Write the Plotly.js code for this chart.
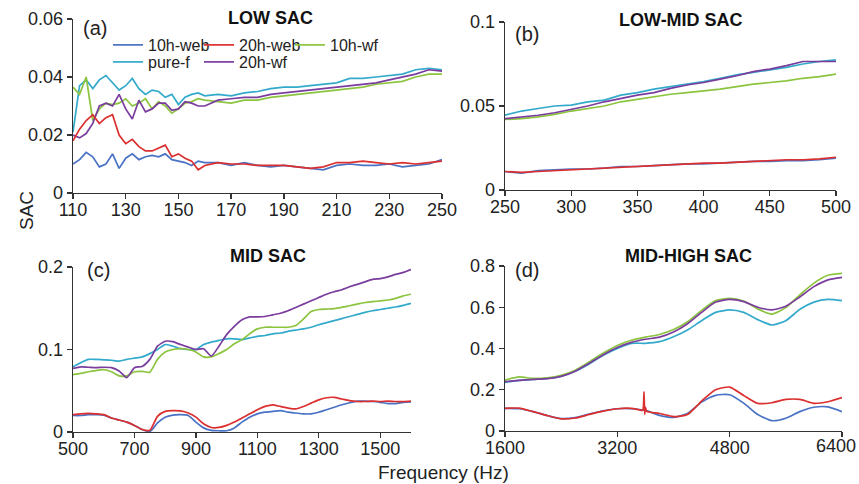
<!DOCTYPE html>
<html>
<head>
<meta charset="utf-8">
<script src="https://cdn.plot.ly/plotly-3.0.1.min.js"></script>
<style>html,body{margin:0;padding:0;background:#fff;}#chart{width:859px;height:484px;}</style>
</head>
<body>
<div id="chart"></div>
<script>
// ---------- data ----------
const seriesNames = ["10h-web", "20h-web", "10h-wf", "pure-f", "20h-wf"];
const seriesColors = ["#4a72c4", "#dc2f2f", "#8cc43f", "#33aacb", "#7a3d9e"];

// (a) LOW SAC
const freqA = [110,112.5,115,117.5,120,122.5,125,127.5,130,132.5,135,137.5,140,142.5,145,147.5,150,152.5,155,157.5,160,
  165,170,175,180,185,190,195,200,205,210,215,220,225,230,235,240,245,250];
const web10A = [0.010,0.0115,0.014,0.0125,0.009,0.010,0.0135,0.0085,0.012,0.0135,0.0115,0.0125,0.013,0.0125,0.0135,0.0115,0.011,0.0105,0.0095,0.011,0.0105,
  0.0105,0.0095,0.0105,0.0095,0.009,0.0095,0.009,0.0085,0.008,0.0095,0.010,0.0095,0.0095,0.010,0.009,0.0095,0.010,0.0115];
const web20A = [0.018,0.022,0.025,0.027,0.024,0.026,0.027,0.020,0.017,0.0185,0.016,0.0145,0.0145,0.0155,0.0165,0.0125,0.0135,0.012,0.011,0.008,0.0095,
  0.0105,0.010,0.010,0.0095,0.0095,0.0095,0.009,0.0085,0.009,0.0105,0.0105,0.011,0.0105,0.010,0.0105,0.010,0.0105,0.011];
const wf10A = [0.0365,0.034,0.040,0.025,0.029,0.031,0.0305,0.031,0.0325,0.030,0.031,0.0325,0.029,0.0315,0.030,0.0275,0.029,0.031,0.0315,0.0325,0.032,
  0.0315,0.031,0.032,0.032,0.033,0.0335,0.034,0.0345,0.035,0.0355,0.036,0.0365,0.0375,0.038,0.0385,0.040,0.041,0.041];
const pureA = [0.021,0.037,0.039,0.036,0.039,0.0405,0.038,0.0355,0.037,0.0395,0.036,0.034,0.0355,0.035,0.033,0.034,0.0305,0.033,0.034,0.0345,0.0335,
  0.034,0.0335,0.0345,0.035,0.036,0.0365,0.0365,0.037,0.0375,0.038,0.0395,0.0395,0.040,0.0405,0.041,0.0425,0.043,0.0425];
const wf20A = [0.020,0.019,0.0205,0.024,0.030,0.031,0.030,0.034,0.029,0.0255,0.032,0.028,0.029,0.031,0.031,0.0285,0.029,0.0315,0.031,0.030,0.030,
  0.032,0.0325,0.033,0.033,0.034,0.0345,0.035,0.0355,0.036,0.0365,0.037,0.0375,0.038,0.039,0.040,0.041,0.0425,0.042];

// (b) LOW-MID SAC
const freqB = [250,262.5,275,287.5,300,312.5,325,337.5,350,362.5,375,387.5,400,412.5,425,437.5,450,462.5,475,487.5,500];
const web10B = [0.011,0.010,0.0115,0.012,0.0125,0.0125,0.013,0.014,0.014,0.0145,0.015,0.0155,0.0155,0.016,0.0165,0.017,0.017,0.0175,0.0175,0.018,0.019];
const web20B = [0.011,0.0105,0.011,0.0115,0.012,0.0125,0.013,0.0135,0.014,0.0145,0.015,0.0155,0.016,0.016,0.0165,0.017,0.0175,0.018,0.018,0.0185,0.0195];
const wf10B = [0.042,0.0425,0.0435,0.045,0.047,0.0485,0.050,0.0525,0.054,0.0555,0.057,0.058,0.059,0.060,0.0615,0.063,0.064,0.065,0.0665,0.0675,0.069];
const pureB = [0.0445,0.047,0.0485,0.050,0.0505,0.0525,0.0535,0.0565,0.058,0.060,0.0615,0.063,0.0645,0.0665,0.0685,0.070,0.0715,0.073,0.075,0.0765,0.0775];
const wf20B = [0.0425,0.0435,0.0445,0.046,0.048,0.050,0.0525,0.0545,0.0565,0.058,0.0605,0.0625,0.064,0.066,0.068,0.0705,0.072,0.074,0.0765,0.0765,0.0765];

// (c) MID SAC
const freqC = [500,525,550,575,600,625,650,675,700,725,750,775,800,825,850,875,900,925,950,975,1000,1025,1050,1075,1100,
  1125,1150,1175,1200,1225,1250,1275,1300,1325,1350,1375,1400,1425,1450,1475,1500,1525,1550,1575,1600];
const web10C = [0.020,0.020,0.021,0.021,0.0205,0.017,0.0145,0.012,0.008,0.003,0.0005,0.011,0.018,0.0205,0.021,0.020,0.012,0.005,0.002,0.0015,0.0015,0.005,0.012,0.018,0.022,
  0.024,0.025,0.026,0.024,0.023,0.022,0.022,0.024,0.027,0.030,0.033,0.0355,0.0375,0.0375,0.037,0.036,0.0345,0.0345,0.036,0.0365];
const web20C = [0.021,0.022,0.0225,0.022,0.021,0.017,0.0145,0.012,0.008,0.003,0.002,0.019,0.025,0.026,0.0255,0.023,0.018,0.010,0.0055,0.0055,0.008,0.012,0.017,0.022,0.027,
  0.031,0.033,0.031,0.029,0.028,0.031,0.035,0.039,0.0415,0.042,0.040,0.038,0.037,0.037,0.0375,0.037,0.0375,0.037,0.037,0.0375];
const wf10C = [0.0695,0.071,0.073,0.0745,0.0755,0.073,0.068,0.068,0.073,0.0735,0.0725,0.088,0.097,0.100,0.101,0.100,0.097,0.091,0.091,0.095,0.100,0.107,0.112,0.119,0.125,
  0.127,0.127,0.127,0.127,0.129,0.137,0.146,0.1485,0.149,0.1495,0.151,0.153,0.155,0.157,0.158,0.159,0.160,0.162,0.165,0.167];
const pureC = [0.079,0.084,0.088,0.088,0.0875,0.087,0.086,0.088,0.0895,0.091,0.095,0.100,0.106,0.104,0.101,0.100,0.100,0.106,0.109,0.111,0.113,0.113,0.112,0.114,0.116,
  0.117,0.119,0.120,0.122,0.1235,0.125,0.127,0.130,0.1325,0.135,0.1375,0.140,0.1425,0.145,0.147,0.1485,0.150,0.1515,0.1535,0.156];
const wf20C = [0.077,0.079,0.0785,0.078,0.0785,0.078,0.074,0.066,0.078,0.0795,0.088,0.104,0.110,0.1095,0.106,0.103,0.100,0.101,0.092,0.104,0.118,0.128,0.136,0.1395,0.1395,
  0.140,0.142,0.144,0.147,0.151,0.155,0.159,0.163,0.167,0.170,0.1725,0.176,0.179,0.182,0.185,0.186,0.188,0.191,0.1935,0.197];

// (d) MID-HIGH SAC
const freqD = [1600,1800,2000,2200,2400,2600,2800,3000,3200,3400,3600,3800,4000,4200,4400,4600,4800,5000,5200,5400,5600,5800,6000,6200,6400];
const freqDred = [1600,1800,2000,2200,2400,2600,2800,3000,3200,3400,3500,3560,3580,3590,3600,3620,3800,4000,4200,4400,4600,4800,5000,5200,5400,5600,5800,6000,6200,6400];
const web10D = [0.110,0.108,0.094,0.075,0.060,0.065,0.082,0.098,0.108,0.108,0.100,0.076,0.066,0.085,0.140,0.173,0.176,0.135,0.080,0.050,0.062,0.094,0.115,0.117,0.094];
const web20D = [0.110,0.111,0.094,0.075,0.059,0.063,0.080,0.096,0.108,0.110,0.104,0.100,0.190,0.080,0.115,0.095,0.085,0.070,0.080,0.145,0.200,0.213,0.172,0.134,0.137,0.153,0.153,0.134,0.142,0.162];
const wf10D = [0.247,0.262,0.255,0.258,0.270,0.295,0.335,0.378,0.415,0.440,0.455,0.468,0.492,0.530,0.585,0.632,0.643,0.630,0.592,0.567,0.598,0.660,0.717,0.755,0.764];
const pureD = [0.236,0.245,0.250,0.255,0.266,0.290,0.325,0.367,0.400,0.425,0.425,0.433,0.457,0.490,0.535,0.575,0.587,0.575,0.540,0.514,0.535,0.590,0.625,0.638,0.632];
const wf20D = [0.239,0.245,0.250,0.254,0.265,0.290,0.328,0.370,0.405,0.430,0.445,0.455,0.480,0.520,0.575,0.625,0.638,0.627,0.600,0.587,0.605,0.650,0.700,0.733,0.745];

// ticks
const xTicksA = [110,130,150,170,190,210,230,250];
const yTicksA = [0,0.02,0.04,0.06], yTextA = ["0","0.02","0.04","0.06"];
const xTicksB = [250,300,350,400,450,500];
const yTicksB = [0,0.05,0.1], yTextB = ["0","0.05","0.1"];
const xTicksC = [500,700,900,1100,1300,1500];
const yTicksC = [0,0.1,0.2], yTextC = ["0","0.1","0.2"];
const xTicksD = [1600,3200,4800,6400], xTextD = ["1600","3200","4800","6400"];
const yTicksD = [0,0.2,0.4,0.6,0.8], yTextD = ["0","0.2","0.4","0.6","0.8"];

const panelTitles = ["LOW SAC", "LOW-MID SAC", "MID SAC", "MID-HIGH SAC"];
const panelLabels = ["(a)", "(b)", "(c)", "(d)"];

// ---------- traces ----------
const FONT = "Liberation Sans, Arial, Helvetica, sans-serif";
const panels = [
  {xa:"x",  ya:"y",  x:[freqA,freqA,freqA,freqA,freqA], y:[web10A,web20A,wf10A,pureA,wf20A], shape:"linear"},
  {xa:"x2", ya:"y2", x:[freqB,freqB,freqB,freqB,freqB], y:[web10B,web20B,wf10B,pureB,wf20B], shape:"linear"},
  {xa:"x3", ya:"y3", x:[freqC,freqC,freqC,freqC,freqC], y:[web10C,web20C,wf10C,pureC,wf20C], shape:"spline"},
  {xa:"x4", ya:"y4", x:[freqD,freqDred,freqD,freqD,freqD], y:[web10D,web20D,wf10D,pureD,wf20D], shape:"spline"}
];
const legendOf = ["legend","legend","legend","legend2","legend2"];
const drawOrder = [3,2,4,0,1];
const traces = [];
panels.forEach((p, pi) => {
  drawOrder.forEach(si => {
    traces.push({
      type:"scatter", mode:"lines",
      x:p.x[si], y:p.y[si], xaxis:p.xa, yaxis:p.ya,
      name:seriesNames[si],
      line:{color:seriesColors[si], width:1.7, shape:p.shape, smoothing:0.6},
      showlegend: pi === 0,
      legend: legendOf[si],
      legendrank: si,
      hoverinfo:"skip"
    });
  });
});

// ---------- layout ----------
const W = 859, H = 484;
const px = v => v / W, py = v => 1 - v / H;
const TICKFONT = {family:FONT, size:18, color:"#222"};
function axisBase(extra) {
  return Object.assign({
    showline:true, linecolor:"#333", linewidth:1.3,
    ticks:"outside", ticklen:5, tickwidth:1.3, tickcolor:"#333",
    showgrid:false, zeroline:false, fixedrange:true,
    ticklabeloverflow:"allow",
    tickfont:TICKFONT
  }, extra);
}
const ann = [];
const titlePos = [[270,18],[681,20],[268,256],[688,256]];
const labelPos = [[95,28],[527,34],[98,270],[527,270]];
panelTitles.forEach((t,i) => ann.push({text:"<b>"+t+"</b>", xref:"paper", yref:"paper",
  x:px(titlePos[i][0]), y:py(titlePos[i][1]), xanchor:"center", yanchor:"middle", showarrow:false,
  font:{family:FONT, size:18, color:"#111"}}));
panelLabels.forEach((t,i) => ann.push({text:t, xref:"paper", yref:"paper",
  x:px(labelPos[i][0]), y:py(labelPos[i][1]), xanchor:"center", yanchor:"middle", showarrow:false,
  font:{family:FONT, size:20, color:"#222"}}));
ann.push({text:"SAC", xref:"paper", yref:"paper", x:px(27), y:py(211), textangle:-90,
  xanchor:"center", yanchor:"middle", showarrow:false, font:{family:FONT, size:19, color:"#222"}});
ann.push({text:"Frequency (Hz)", xref:"paper", yref:"paper", x:px(443), y:py(472),
  xanchor:"center", yanchor:"middle", showarrow:false, font:{family:FONT, size:19, color:"#222"}});
// last tick label of (d) pulled left so it stays inside the picture, as in the reference
ann.push({text:xTextD[3], xref:"x4", yref:"paper", x:xTicksD[3], xshift:-6, y:py(446),
  xanchor:"center", yanchor:"middle", showarrow:false, font:TICKFONT});

const legendBase = {orientation:"h", xanchor:"left", yanchor:"middle", bgcolor:"rgba(0,0,0,0)",
  borderwidth:0, entrywidth:46, itemwidth:30, traceorder:"normal",
  font:{family:FONT, size:16, color:"#222"}};

const layout = {
  width:W, height:H, margin:{l:0,r:0,t:0,b:0},
  paper_bgcolor:"#fff", plot_bgcolor:"rgba(0,0,0,0)",
  showlegend:true,
  legend: Object.assign({}, legendBase, {x:px(108), y:py(45)}),
  legend2: Object.assign({}, legendBase, {x:px(108), y:py(62)}),
  xaxis: axisBase({domain:[px(73),px(442)], range:[110,250], tickvals:xTicksA, anchor:"y", ticklabelstandoff:-5}),
  yaxis: axisBase({domain:[py(193),py(19)], range:[0,0.06], tickvals:yTicksA, ticktext:yTextA, anchor:"x"}),
  xaxis2: axisBase({domain:[px(505),px(836)], range:[250,500], tickvals:xTicksB, anchor:"y2", ticklabelstandoff:-5}),
  yaxis2: axisBase({domain:[py(190),py(22)], range:[0,0.1], tickvals:yTicksB, ticktext:yTextB, anchor:"x2"}),
  xaxis3: axisBase({domain:[px(73),px(411)], range:[500,1600], tickvals:xTicksC, anchor:"y3", ticklabelstandoff:-5}),
  yaxis3: axisBase({domain:[py(432),py(267)], range:[0,0.2], tickvals:yTicksC, ticktext:yTextC, anchor:"x3"}),
  xaxis4: axisBase({domain:[px(505),px(842)], range:[1600,6400], tickvals:xTicksD,
    ticktext:[xTextD[0], xTextD[1], xTextD[2], ""], anchor:"y4", ticklabelstandoff:-5}),
  yaxis4: axisBase({domain:[py(431),py(266)], range:[0,0.8], tickvals:yTicksD, ticktext:yTextD, anchor:"x4"}),
  annotations: ann
};

Plotly.newPlot("chart", traces, layout, {staticPlot:true, displayModeBar:false});
</script>
</body>
</html>
